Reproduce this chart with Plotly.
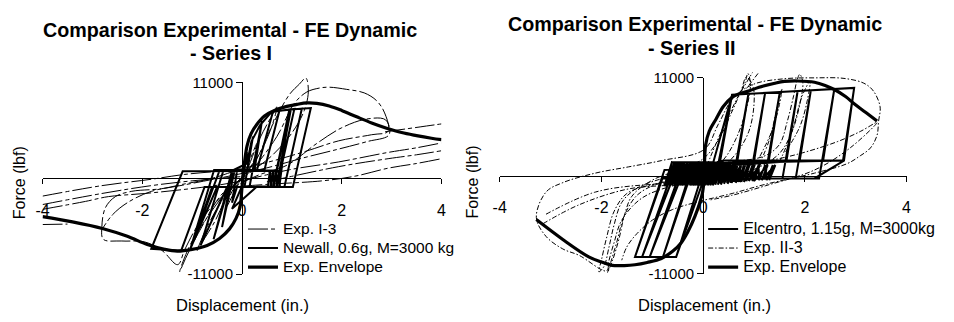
import plotly.graph_objects as go

W, H = 954, 322
FONT = "Liberation Sans, Arial, sans-serif"

# ---------------- DATA: Series I ----------------
env1_x = [-4.0, -3.4, -2.8, -2.3, -1.9, -1.55, -1.3, -1.0, -0.7, -0.45, -0.25, -0.12, -0.04, 0.0, 0.05,
          0.1, 0.18, 0.3, 0.45, 0.65, 0.9, 1.1, 1.3, 1.5, 1.75, 2.0, 2.3, 2.6, 2.9, 3.2, 3.5, 3.8, 4.0]
env1_y = [-4400, -5000, -5750, -6650, -7600, -8150, -8350, -8150, -7700, -6900, -5800, -4600, -3300, -1000, 1800,
          3700, 5100, 6200, 7150, 7780, 8250, 8480, 8650, 8600, 8300, 7780, 7050, 6350, 5750, 5250, 4900, 4600, 4430]

newall_x = [0.00, 0.10, 0.02, -0.10, -0.20, -0.10, 0.05,
            0.22, 0.10, -0.15, -0.40, -0.25, 0.15,
            0.40, 0.25, -0.20, -0.57, -0.17, 0.10, 0.19, 0.36,
            0.59, 0.95, 0.62, -0.30, -0.83, -0.37, 0.30,
            0.62, 1.05, 0.70, -0.50, -1.03, -0.56, 0.45,
            0.75, 1.20, 0.85, -0.75, -1.22, -1.82, -1.19, 0.75,
            0.98, 1.38, 1.02, -0.60, -1.00, -0.45, 0.70,
            0.92, 0.75, 0.52,
            0.56, 0.58, 0.62, 0.64, 0.68, 0.70, 0.74, 0.76,
            0.30, -0.20, 0.00, 0.05, 0.10, 0.00]
newall_y = [0, 2800, 850, 850, -2800, -1000, -1000,
            4800, 850, 850, -5600, -1000, -1000,
            6600, 900, 900, -7000, 950, 1700, 4250, 6070,
            7600, 7900, -1000, -1000, -7700, 950, 950,
            7650, 7950, -1000, -1000, -8000, 950, 950,
            7750, 8000, -1000, -1000, -8300, -8090, 800, 850,
            7900, 8060, -1000, -1000, -7600, 900, 900,
            6800, -950, -950,
            950, -950, 950, -950, 950, -950, 950, -950,
            -950, -3500, -900, 900, 3000, 500]

exp1_x = [0.0, 0.15, 0.3, 0.22, 0.0, -0.15, -0.3, -0.2, 0.05, 0.35, 0.6, 0.7, 0.6, 0.35, 0.05, -0.25, -0.55,
          -0.85, -0.9, -0.75, -0.45, -0.1, 0.25, 0.6, 0.95, 1.15, 1.28, 1.33, 1.25, 1.0, 0.6, 0.1, -0.4, -0.8,
          -1.1, -1.25, -1.18, -1.0, -0.7, -0.3, 0.2, 0.7, 1.05, 1.3, 1.55, 1.75, 2.1, 2.45, 2.7, 2.86, 2.93,
          2.6, 1.94, 1.28, 0.62, 0.0, -0.6, -1.2, -1.62, -2.21, -2.54, -2.74, -2.81, -2.78, -2.41, -1.95, -1.6,
          -1.29, -1.15, -0.9, -0.6, -0.2, 0.3, 0.9, 1.5, 2.0, 2.5, 2.88, 2.95, 2.5, 1.9, 1.2, 0.5, -0.3, -1.2,
          -1.82, -2.3, -2.6, -2.8, None,
          0.0, 0.95, 1.94, 2.93, 3.5, 4.0, None,
          0.5, 1.94, 2.93, 3.5, 4.0, None,
          0.0, 0.62, 1.61, 2.27, 2.93, 3.5, 4.0, None,
          2.87, 3.33, 3.7, 4.0, None,
          -4.0, -2.81, -1.82, -1.16, -0.5, 0.0, None,
          -4.0, -2.81, -1.82, -1.0, 0.0, None,
          -4.0, -3.14, -2.68, -1.95, -1.2, -0.5, 0.0, None,
          -4.0, -3.5]
exp1_y = [0, 2000, 4000, 1800, 0, -1500, -3200, -1500, 400, 4500, 7200, 8200, 6000, 2800, 500, -1500, -5000,
          -7800, -8300, -6200, -3000, -500, 1800, 6000, 9600, 10800, 11500, 10000, 7800, 5200, 2600, 400, -1800, -5500,
          -8800, -10700, -9500, -7200, -4500, -1500, 1000, 4800, 8600, 9900, 10350, 10450, 10200, 9800, 8900, 7500, 5400,
          5000, 4300, 3100, 2000, 1100, 0, -700, -1200, -1490, -2100, -3380, -5550, -7000, -7190, -7300, -8300,
          -9900, -8200, -5500, -3200, -1200, 300, 1500, 4000, 5800, 6800, 6700, 5000, 4200, 3300, 2300, 1200, 200, -800,
          -1500, -2800, -4200, -5800, None,
          -300, 980, 1880, 2970, 3500, 4060, None,
          -400, 1340, 2250, 2700, 3160, None,
          -900, -650, -290, 250, 1160, 1700, 2250, None,
          5340, 5700, 6000, 6240, None,
          -2040, -840, -110, 440, 800, 1100, None,
          -3010, -1740, -840, -290, 200, None,
          -3560, -2650, -2100, -1740, -1300, -800, -300, None,
          -5300, -5250]

# ---------------- DATA: Series II ----------------
env2_x = [-3.28, -2.76, -2.25, -2.0, -1.79, -1.55, -1.34, -1.1, -0.82, -0.6, -0.43, -0.3, -0.17, -0.01,
          0.05, 0.12, 0.25, 0.4, 0.57, 0.7, 0.89, 1.1, 1.41, 1.6, 1.86, 2.19, 2.4, 2.58, 2.8, 2.97, 3.2, 3.42]
env2_y = [-4930, -7170, -9120, -9700, -10080, -10100, -10010, -9750, -9300, -8500, -7530, -6300, -4690, -1840,
          3480, 5000, 6320, 7800, 8810, 9200, 9510, 9950, 10400, 10600, 10650, 10510, 10150, 9690, 8900, 8090, 7100, 6140]

elc_x = [0.0, -0.76, -0.61, -0.71, -0.56, -0.66, -0.51, -0.61, -0.46, -0.56, -0.41, -0.51, -0.36, -0.46, -0.31,
         -0.41, -0.26, -0.36, -0.21, -0.31, -0.16, -0.26, -0.11, -0.21, -0.06, -0.16, -0.01, -0.11, 0.04, -0.06,
         0.09, -0.01, 0.14, 0.04, 0.19, 0.09, 0.24, 0.14, 0.29, 0.19, 0.34, 0.24, 0.39, 0.29, 0.44, 0.34, 0.49,
         0.40, 0.54, 0.47, 0.61, 0.54, 0.68, 0.61, 0.75, 0.68, 0.82, 0.75, 0.89, 0.85, 0.98, 0.97, 1.09, 1.10,
         1.22, 1.25, 1.37,
         1.30, 1.42, 1.15, 1.27, 1.00, 1.12, 0.90, 1.02, 0.80, 0.92, 0.72, 0.84, 0.64, 0.76, 0.56, 0.68, 0.48,
         0.60, 0.41, 0.53, 0.35, 0.47, 0.29, 0.41, 0.23, 0.35, 0.17, 0.29, 0.11, 0.23, 0.05, 0.17, -0.01, 0.11,
         -0.07, 0.05, -0.13, -0.01, -0.19, -0.07, -0.25, -0.13, -0.31, -0.19, -0.37, -0.25, -0.43, -0.31, -0.49,
         -0.37, -0.55, -0.43, -0.61, -0.49, -0.67, -0.55, -0.73, -0.61,
         0.20, 0.57, 0.27, -0.05, -0.53, 0.11, 0.67, 0.89, 0.59, -0.30, -0.79, -0.18, 1.00, 1.22, 0.92, -0.45,
         -1.05, -0.40, 1.29, 1.51, 1.21, -0.60, -1.20, -0.56, 1.64, 1.86, 1.56, -0.80, -1.34, -0.76, 1.90, 2.12,
         1.82, 0.00, 0.10, 2.36, 2.58, 2.28, 0.20, 0.30, 2.75, 2.97, 2.77, 2.19, 0.50, 0.30, 0.57, 2.97, 2.77,
         0.40, -0.80, -1.34, -0.53, 0.11]
elc_y = [0, -1100, 1600, -1100, 1600, -1100, 1600, -1100, 1600, -1100, 1600, -1100, 1600, -1100, 1600,
         -1100, 1600, -1100, 1600, -1100, 1600, -1100, 1600, -1100, 1600, -1100, 1600, -1100, 1600, -1100,
         1600, -1100, 1600, -1100, 1600, -1100, 1600, -1100, 1600, -1100, 1600, -1000, 1600, -1000, 1500, -900,
         1500, -800, 1500, -800, 1400, -800, 1400, -700, 1400, -700, 1400, -700, 1300, -600, 1300, -600, 1200,
         -500, 1200, -500, 1200,
         -500, 1200, -500, 1200, -600, 1300, -600, 1300, -700, 1300, -700, 1400, -800, 1400, -800, 1400, -900,
         1400, -900, 1500, -1000, 1500, -1000, 1500, -1000, 1500, -1000, 1500, -1000, 1500, -1000, 1500, -1100,
         1500, -1100, 1500, -1100, 1500, -1100, 1500, -1100, 1500, -1100, 1500, -1100, 1500, -1100, 1500, -1100,
         1500, -1100, 1500, -1100, 1500, -1100, 1500, -1100, 1500,
         1500, 9100, -400, -400, -9130, 1170, 1550, 9200, -400, -400, -9130, 1170, 1600, 9350, -400, -400,
         -9130, 1170, 1650, 9450, -350, -350, -9130, 1170, 1700, 9550, -300, -300, -9130, 640, 1700, 9650,
         -300, -300, 1400, 1700, 9750, -300, -300, 1400, 1700, 9870, 1700, -300, -300, 1400, 9100, 9870, 1700,
         1700, -300, -9130, -9130, 1170]

exp2_x = [0.0, 0.15, 0.4, 0.65, 0.82, 0.88, 0.93, 0.85, 0.65, 0.4, 0.1, -0.4, -0.9, -1.3, -1.55, -1.7, -1.82,
          -1.88, -1.78, -1.65, -1.55, -1.4, -1.0, -0.4, 0.0, 0.3, 0.55, 0.75, 0.85, 0.98, 1.0, 0.9, 0.65, 0.3,
          -0.3, -1.0, -1.5, -1.75, -1.9, -2.0, -2.05, -1.95, -1.85, -1.75, -1.6, -1.3, -0.8, -0.2, 0.5, 1.2,
          1.5, 1.65, 1.78, 1.85, 1.9, 1.96, 1.9, 1.75, 1.5, 1.0, 0.3, -0.5, -1.2, -1.6, -1.75, -1.85, -1.9,
          -2.44, -2.76, -3.09, -3.28, -3.09, -2.76, -2.12, -1.47, -0.82, 0.02, 0.3, 0.6, 1.0, 1.6, 2.2, 2.77,
          3.16, 3.35, 3.48, 3.45, 3.42, 3.29, 3.09, 2.83, 2.19, 1.2, 0.57, -0.08, -0.6, -1.0, -1.3, -1.5, -1.6,
          None,
          0.3, 1.0, 1.86, 2.64, 3.1, 3.42, 2.89, 2.19, 1.22, 0.57, 0.12, None,
          -3.09, -2.12, -0.95, -0.04, None,
          -3.15, -2.44, -1.47, -0.5, 0.0, None,
          1.1, 1.3, 1.45, 1.55, 1.5, 1.35, 1.1, None,
          1.5, 1.75, 1.95, 2.1, 2.05, 1.9, 1.6, None,
          0.75, 0.97, None,
          1.08, 0.85]
exp2_y = [0, 2200, 5500, 8500, 10400, 11500, 10300, 7500, 4200, 1800, 500, -200, -900, -2200, -4500, -7500, -9800,
          -10900, -9500, -7000, -4500, -2300, -500, 800, 1900, 4000, 7000, 9600, 11100, 10000, 8000, 5000, 2500, 700,
          -300, -1000, -2000, -4000, -7000, -9500, -10800, -10200, -8000, -5500, -3000, -1400, -300, 700, 1500, 2200,
          3500, 6000, 9000, 10800, 11400, 10500, 8000, 5000, 2500, 700, -300, -1000, -2500, -5000, -7500, -9500, -10700,
          -8950, -8230, -6820, -4700, -1840, -780, 290, 990, 1700, 2950, 5800, 8800, 10300, 10900, 11000, 10940,
          10400, 9510, 7740, 6140, 4550, 3120, 2240, 1350, 290, -1000, -2000, -2900, -3800, -5000, -6500, -8000, -9500,
          None,
          300, 1300, 2420, 3830, 5000, 6000, 3120, 640, -1140, -2200, -2740, None,
          -4330, -1840, -960, -960, None,
          -5400, -3270, -1490, -1000, -600, None,
          1200, 4000, 7500, 9800, 8000, 5000, 2000, None,
          1500, 5000, 9000, 10600, 8500, 5500, 2500, None,
          9500, 11600, None,
          11500, 9800]

xticks = [-4, -2, 0, 2, 4]
yticks = [-11000, 11000]

# ---------------- LAYOUT CALIBRATION (pixels) ----------------
PANELS = {
    "L": (36, 440, 77.5, 280.0),
    "R": (499, 911, 72.7, 279.3),
}
DATA_TOP, DATA_BOT = 40, 305


def px2fx(px):
    return px / W


def px2fy(py):
    return 1 - py / H


def lg(text, size):
    return '<span style="font-size:%spx">%s</span>' % (size, text)


fig = go.Figure()

thin = dict(color="black", width=1.0, dash="20px,3px,4px,3px")
mid = dict(color="black", width=2.0)
thick = dict(color="black", width=3.2)
dashdot = dict(color="black", width=1.0, dash="5px,2px,1.5px,2px")

fig.add_trace(go.Scatter(x=exp1_x, y=exp1_y, mode="lines", line=thin, line_shape="spline",
                         name=lg("Exp. I-3", 15.5), xaxis="x", yaxis="y", legend="legend"))
fig.add_trace(go.Scatter(x=newall_x, y=newall_y, mode="lines", line=mid,
                         name=lg("Newall, 0.6g, M=3000 kg", 15.5), xaxis="x", yaxis="y", legend="legend"))
fig.add_trace(go.Scatter(x=env1_x, y=env1_y, mode="lines", line=thick, line_shape="spline",
                         name=lg("Exp. Envelope", 15.5), xaxis="x", yaxis="y", legend="legend"))
fig.add_trace(go.Scatter(x=elc_x, y=elc_y, mode="lines", line=mid,
                         name=lg("Elcentro, 1.15g, M=3000kg", 16), xaxis="x2", yaxis="y2", legend="legend2"))
fig.add_trace(go.Scatter(x=exp2_x, y=exp2_y, mode="lines", line=dashdot, line_shape="spline",
                         name=lg("Exp. II-3", 16), xaxis="x2", yaxis="y2", legend="legend2"))
fig.add_trace(go.Scatter(x=env2_x, y=env2_y, mode="lines", line=thick, line_shape="spline",
                         name=lg("Exp. Envelope", 16), xaxis="x2", yaxis="y2", legend="legend2"))

fig.add_trace(go.Scatter(x=[0], y=[0], mode="markers", marker=dict(opacity=0), showlegend=False,
                         hoverinfo="skip", xaxis="x", yaxis="y3"))
fig.add_trace(go.Scatter(x=[0], y=[0], mode="markers", marker=dict(opacity=0), showlegend=False,
                         hoverinfo="skip", xaxis="x2", yaxis="y4"))

layout = dict(
    width=W, height=H, margin=dict(l=0, r=0, t=0, b=0),
    paper_bgcolor="white", plot_bgcolor="rgba(0,0,0,0)",
    font=dict(family=FONT, color="black"),
    showlegend=True,
)

for key, (xa, yd, ydisp) in {"L": ("xaxis", "yaxis", "yaxis3"),
                             "R": ("xaxis2", "yaxis2", "yaxis4")}.items():
    x0, x1, yt, yb = PANELS[key]
    zero_px = (yt + yb) / 2
    s = (yb - yt) / 22000.0
    layout[xa] = dict(domain=[px2fx(x0), px2fx(x1)], range=[-4, 4], anchor="free",
                      position=px2fy(zero_px), showline=True, linecolor="black", linewidth=1,
                      ticks="outside", ticklen=5, tickcolor="black", tickvals=xticks,
                      ticktext=[str(v) for v in xticks], showgrid=False, zeroline=False,
                      tickfont=dict(size=16, family=FONT), ticklabelstandoff=12)
    layout[yd] = dict(domain=[px2fy(DATA_BOT), px2fy(DATA_TOP)],
                      range=[-(DATA_BOT - zero_px) / s, (zero_px - DATA_TOP) / s],
                      visible=False, anchor=xa.replace("axis", ""))
    layout[ydisp] = dict(domain=[px2fy(yb), px2fy(yt)], range=[-11000, 11000], anchor="free",
                         position=px2fx((x0 + x1) / 2), showline=True, linecolor="black", linewidth=1,
                         ticks="outside", ticklen=6, tickcolor="black", tickvals=yticks,
                         ticktext=[str(v) for v in yticks], showgrid=False, zeroline=False,
                         tickfont=dict(size=15, family=FONT))

layout["legend"] = dict(x=px2fx(239), y=px2fy(217), xanchor="left", yanchor="top",
                        bgcolor="rgba(0,0,0,0)", font=dict(size=12, family=FONT),
                        tracegroupgap=0, itemwidth=30)
layout["legend2"] = dict(x=px2fx(705), y=px2fy(217), xanchor="left", yanchor="top",
                         bgcolor="rgba(0,0,0,0)", font=dict(size=12, family=FONT),
                         tracegroupgap=0, itemwidth=30)

titles = [
    (226, 22, "<b>Comparison Experimental - FE Dynamic</b>"),
    (227, 46, "<b>- Series I</b>"),
    (697, 16, "<b>Comparison Experimental - FE Dynamic</b>"),
    (694, 41, "<b>- Series II</b>"),
]
ann = []
for cx, cy, t in titles:
    ann.append(dict(x=px2fx(cx), y=px2fy(cy), xref="paper", yref="paper", text=t, showarrow=False,
                    xanchor="center", yanchor="middle", font=dict(size=19.7, family=FONT)))
for cx, cy in [(13, 183), (471, 183)]:
    ann.append(dict(x=px2fx(cx), y=px2fy(cy), xref="paper", yref="paper", text="Force (lbf)",
                    showarrow=False, textangle=-90, xanchor="center", yanchor="middle",
                    font=dict(size=16, family=FONT)))
for cx, cy in [(239, 313), (706, 312)]:
    ann.append(dict(x=px2fx(cx), y=px2fy(cy), xref="paper", yref="paper", text="Displacement (in.)",
                    showarrow=False, xanchor="center", yanchor="middle", font=dict(size=16.5, family=FONT)))
layout["annotations"] = ann

fig.update_layout(**layout)
fig.write_html("out.html")
